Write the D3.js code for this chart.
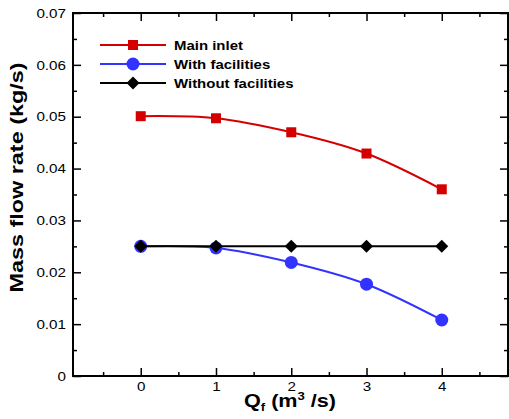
<!DOCTYPE html>
<html lang="en">
<head>
<meta charset="UTF-8">
<title>Mass flow rate</title>
<script src="https://d3js.org/d3.v7.min.js"></script>
<style>
  body { margin: 0; background: #fff; }
  text { font-family: "Liberation Sans", Arial, sans-serif; }
</style>
</head>
<body>
<script>
  // data
  var qf = [0, 1, 2, 3, 4];
  var mainInlet = [0.0501, 0.0497, 0.0470, 0.0429, 0.0360];
  var withFac = [0.0250, 0.0247, 0.0219, 0.0177, 0.0108];
  var withoutFac = [0.0250, 0.0250, 0.0250, 0.0250, 0.0250];
  var xTicks = [0, 1, 2, 3, 4];
  var yTicks = [0, 0.01, 0.02, 0.03, 0.04, 0.05, 0.06, 0.07];

  var width = 509, height = 419;
  var plotLeft = 73, plotRight = 508, plotTop = 13, plotBottom = 376;

  var svg = d3.select("body").append("svg").attr("width", width).attr("height", height);

  var x = d3.scaleLinear().domain([-0.9, 4.88]).range([plotLeft, plotRight]);
  var y = d3.scaleLinear().domain([0, 0.07]).range([plotBottom, plotTop]);

  var xMinor = d3.range(-0.5, 4.9, 1);
  var yMinor = d3.range(0.005, 0.07, 0.01);

  // the original text is a bit wider than Arial
  function stretch(sel, k) {
    sel.each(function() {
      var w = this.getComputedTextLength();
      d3.select(this).attr("textLength", w * k).attr("lengthAdjust", "spacingAndGlyphs");
    });
  }

  // axes with inward ticks
  function fmtY(d) { return d === 0 ? "0" : d3.format(".2f")(d); }

  svg.append("g").attr("transform", "translate(0," + plotBottom + ")")
    .call(d3.axisBottom(x).tickValues(xTicks).tickSizeInner(-8).tickSizeOuter(0).tickPadding(6).tickFormat(d3.format("d")));
  svg.append("g").attr("transform", "translate(0," + plotTop + ")")
    .call(d3.axisTop(x).tickValues(xTicks).tickSizeInner(-8).tickSizeOuter(0).tickFormat(""));
  svg.append("g").attr("transform", "translate(" + plotLeft + ",0)")
    .call(d3.axisLeft(y).tickValues(yTicks).tickSizeInner(-8).tickSizeOuter(0).tickPadding(7).tickFormat(fmtY));
  svg.append("g").attr("transform", "translate(" + plotRight + ",0)")
    .call(d3.axisRight(y).tickValues(yTicks).tickSizeInner(-8).tickSizeOuter(0).tickFormat(""));

  svg.append("g").attr("transform", "translate(0," + plotBottom + ")")
    .call(d3.axisBottom(x).tickValues(xMinor).tickSize(-4).tickFormat(""));
  svg.append("g").attr("transform", "translate(0," + plotTop + ")")
    .call(d3.axisTop(x).tickValues(xMinor).tickSize(-4).tickFormat(""));
  svg.append("g").attr("transform", "translate(" + plotLeft + ",0)")
    .call(d3.axisLeft(y).tickValues(yMinor).tickSize(-4).tickFormat(""));
  svg.append("g").attr("transform", "translate(" + plotRight + ",0)")
    .call(d3.axisRight(y).tickValues(yMinor).tickSize(-4).tickFormat(""));

  svg.selectAll(".domain").remove();
  svg.selectAll(".tick line").attr("stroke", "#000").attr("stroke-width", 1.5);
  svg.selectAll(".tick text").attr("font-size", 13).attr("fill", "#000")
    .style("font-family", "'Liberation Sans', Arial, sans-serif")
    .filter(function() { return this.textContent !== ""; })
    .call(stretch, 1.17);

  svg.append("rect")
    .attr("x", plotLeft).attr("y", plotTop)
    .attr("width", plotRight - plotLeft).attr("height", plotBottom - plotTop)
    .attr("fill", "none").attr("stroke", "#000").attr("stroke-width", 2);

  // series
  var series = [
    { name: "Main inlet", values: mainInlet, color: "#d40000", shape: "square" },
    { name: "With facilities", values: withFac, color: "#3333ff", shape: "circle" },
    { name: "Without facilities", values: withoutFac, color: "#000000", shape: "diamond" }
  ];

  var line = d3.line()
    .x(function(d) { return x(d[0]); })
    .y(function(d) { return y(d[1]); })
    .curve(d3.curveNatural);

  function marker(g, shape, color) {
    if (shape === "square") {
      g.append("rect").attr("x", -5).attr("y", -5).attr("width", 10).attr("height", 10).attr("fill", color);
    } else if (shape === "circle") {
      g.append("circle").attr("r", 6.5).attr("fill", color);
    } else {
      g.append("path").attr("d", "M0,-6.5L6.5,0L0,6.5L-6.5,0Z").attr("fill", color);
    }
  }

  series.forEach(function(s) {
    var pts = qf.map(function(q, i) { return [q, s.values[i]]; });
    svg.append("path").datum(pts)
      .attr("d", line)
      .attr("fill", "none")
      .attr("stroke", s.color)
      .attr("stroke-width", 2);
    pts.forEach(function(p) {
      var g = svg.append("g").attr("transform", "translate(" + x(p[0]) + "," + y(p[1]) + ")");
      marker(g, s.shape, s.color);
    });
  });

  // legend
  var legend = svg.append("g").attr("transform", "translate(100,45)");
  series.forEach(function(s, i) {
    var row = legend.append("g").attr("transform", "translate(0," + (i * 19) + ")");
    row.append("line").attr("x1", 0).attr("x2", 66).attr("stroke", s.color).attr("stroke-width", 2);
    var m = row.append("g").attr("transform", "translate(33,0)");
    marker(m, s.shape, s.color);
    row.append("text").attr("x", 74).attr("y", 5)
      .attr("font-size", 13).attr("font-weight", "bold").text(s.name)
      .call(stretch, 1.15);
  });

  // axis titles
  var xt = svg.append("text").attr("transform", "translate(290,407) scale(1.2,1)")
    .attr("text-anchor", "middle").attr("font-size", 18).attr("font-weight", "bold");
  xt.append("tspan").text("Q");
  xt.append("tspan").attr("font-size", 11).attr("dy", 4).text("f");
  xt.append("tspan").attr("dy", -4).text(" (m");
  xt.append("tspan").attr("font-size", 11).attr("dy", -7).text("3");
  xt.append("tspan").attr("dy", 7).text(" /s)");

  svg.append("text")
    .attr("transform", "translate(23,177.5) rotate(-90) scale(1.3,1)")
    .attr("text-anchor", "middle").attr("font-size", 18).attr("font-weight", "bold")
    .text("Mass flow rate (kg/s)");
</script>
</body>
</html>
